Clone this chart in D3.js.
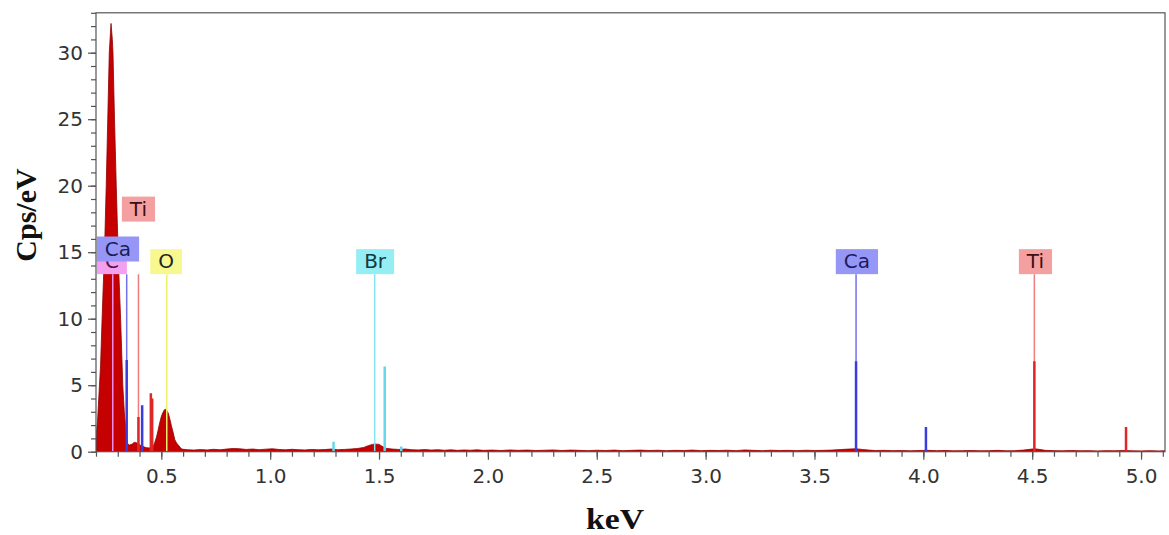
<!DOCTYPE html>
<html>
<head>
<meta charset="utf-8">
<script src="https://cdn.jsdelivr.net/npm/d3@7"></script>
<style>
  body { margin: 0; background: #fff; }
</style>
</head>
<body>
<div id="chart"></div>
<script>

// spectrum: [keV, cps/eV]
var spectrum = [
  [0.200, 1.0], [0.202, 1.4], [0.207, 2.3], [0.211, 3.5], [0.216, 5.0], [0.221, 6.5],
  [0.228, 10.0], [0.234, 12.8], [0.239, 15.0], [0.247, 20.0], [0.254, 25.0], [0.261, 30.0],
  [0.269, 32.2], [0.275, 31.0], [0.278, 30.0], [0.285, 25.0], [0.293, 20.0], [0.300, 16.0],
  [0.305, 13.4], [0.313, 10.0], [0.323, 5.0], [0.330, 3.0], [0.335, 2.0], [0.340, 1.0],
  [0.345, 0.6], [0.354, 0.5], [0.362, 0.55], [0.368, 0.6], [0.375, 0.7], [0.381, 0.7],
  [0.388, 0.65], [0.395, 0.6], [0.402, 0.5], [0.409, 0.45], [0.416, 0.4], [0.423, 0.35],
  [0.430, 0.3], [0.437, 0.3], [0.444, 0.28], [0.450, 0.3], [0.456, 0.32], [0.463, 0.4],
  [0.470, 0.7], [0.478, 1.1], [0.485, 1.6], [0.493, 2.2], [0.501, 2.7], [0.509, 3.0],
  [0.514, 3.15], [0.519, 3.2], [0.525, 3.1], [0.532, 2.9], [0.540, 2.4], [0.547, 1.9],
  [0.555, 1.4], [0.562, 0.9], [0.570, 0.65], [0.578, 0.5], [0.585, 0.35], [0.593, 0.22],
  [0.600, 0.18], [0.62, 0.15], [0.65, 0.12], [0.68, 0.16], [0.71, 0.13], [0.74, 0.18],
  [0.77, 0.14], [0.80, 0.2], [0.83, 0.24], [0.86, 0.22], [0.89, 0.17], [0.92, 0.2],
  [0.95, 0.15], [0.98, 0.19], [1.01, 0.22], [1.04, 0.17], [1.07, 0.14], [1.10, 0.18],
  [1.13, 0.15], [1.16, 0.13], [1.19, 0.17], [1.22, 0.14], [1.25, 0.16], [1.28, 0.2],
  [1.31, 0.15], [1.34, 0.17], [1.37, 0.2], [1.40, 0.24], [1.43, 0.32], [1.45, 0.45],
  [1.47, 0.55], [1.48, 0.58], [1.50, 0.55], [1.51, 0.45], [1.52, 0.35], [1.535, 0.25],
  [1.56, 0.2], [1.59, 0.17], [1.62, 0.2], [1.65, 0.15], [1.68, 0.13], [1.71, 0.16],
  [1.74, 0.12], [1.77, 0.15], [1.80, 0.11], [1.83, 0.14], [1.86, 0.1], [1.89, 0.13],
  [1.92, 0.11], [1.95, 0.14], [1.98, 0.1], [2.02, 0.12], [2.06, 0.09], [2.10, 0.13],
  [2.14, 0.1], [2.18, 0.12], [2.22, 0.09], [2.26, 0.11], [2.30, 0.13], [2.34, 0.09],
  [2.38, 0.12], [2.42, 0.1], [2.46, 0.08], [2.50, 0.11], [2.54, 0.09], [2.58, 0.12],
  [2.62, 0.08], [2.66, 0.1], [2.70, 0.12], [2.74, 0.09], [2.78, 0.11], [2.82, 0.08],
  [2.86, 0.1], [2.90, 0.09], [2.94, 0.12], [2.98, 0.08], [3.02, 0.1], [3.06, 0.09],
  [3.10, 0.11], [3.14, 0.08], [3.18, 0.13], [3.22, 0.1], [3.26, 0.08], [3.30, 0.11],
  [3.34, 0.09], [3.38, 0.1], [3.42, 0.08], [3.46, 0.11], [3.50, 0.09], [3.54, 0.1],
  [3.58, 0.12], [3.62, 0.16], [3.66, 0.2], [3.69, 0.22], [3.72, 0.17], [3.75, 0.12],
  [3.78, 0.09], [3.82, 0.1], [3.86, 0.08], [3.90, 0.09], [3.94, 0.07], [3.98, 0.09],
  [4.02, 0.1], [4.06, 0.08], [4.10, 0.09], [4.14, 0.07], [4.18, 0.08], [4.22, 0.09],
  [4.26, 0.07], [4.30, 0.08], [4.34, 0.1], [4.38, 0.07], [4.42, 0.08], [4.46, 0.12],
  [4.49, 0.18], [4.51, 0.22], [4.53, 0.18], [4.56, 0.1], [4.60, 0.08], [4.64, 0.07],
  [4.68, 0.09], [4.72, 0.07], [4.76, 0.08], [4.80, 0.06], [4.84, 0.08], [4.88, 0.07],
  [4.92, 0.09], [4.96, 0.07], [5.00, 0.06], [5.04, 0.08], [5.08, 0.06], [5.11, 0.07]
];

// element lines: [element, keV, height of the strong line, goes up to the label]
var markers = [
  ["C", 0.277, 0, true],
  ["Ca", 0.341, 6.9, true],
  ["Ti", 0.395, 2.6, true],
  ["Ca", 0.412, 3.5, false],
  ["Ti", 0.452, 4.4, false],
  ["Ti", 0.458, 4.0, false],
  ["O", 0.525, 0, true],
  ["Br", 1.291, 0.75, false],
  ["Br", 1.480, 0, true],
  ["Br", 1.526, 6.4, false],
  ["Br", 1.602, 0.4, false],
  ["Ca", 3.691, 6.8, true],
  ["Ca", 4.012, 1.85, false],
  ["Ti", 4.510, 6.8, true],
  ["Ti", 4.931, 1.85, false]
];
var lineTop = 13.35;

// label boxes: [element, keV at box centre, cps/eV at box bottom]
var labels = [
  ["C", 0.273, 13.35],
  ["Ti", 0.395, 17.3],
  ["Ca", 0.301, 14.3],
  ["O", 0.522, 13.35],
  ["Br", 1.482, 13.35],
  ["Ca", 3.695, 13.35],
  ["Ti", 4.515, 13.35]
];

var xDomain = [0.2, 5.11];
var yDomain = [0, 33];
var xMajor = [0.5, 1.0, 1.5, 2.0, 2.5, 3.0, 3.5, 4.0, 4.5, 5.0];
var yMajor = [0, 5, 10, 15, 20, 25, 30];

// colours per element: [box, light line, strong line, text]
var elemColors = {
  C:  ["#f3a0f0", "#f08cee", "#e060e0", "#4a1a4a"],
  Ca: ["#9696f6", "#7272ec", "#3c3cdc", "#1c1c5c"],
  Ti: ["#f5a0a0", "#f07c7c", "#e02626", "#3a1010"],
  O:  ["#f8f890", "#f0f06a", "#e6e640", "#222222"],
  Br: ["#94eef4", "#86e4f0", "#62d8e8", "#123a40"]
};

var svg = d3.select("#chart").append("svg")
    .attr("width", 1169)
    .attr("height", 535);

var x = d3.scaleLinear().domain(xDomain).range([96, 1165]);
var y = d3.scaleLinear().domain(yDomain).range([451.7, 12.8]);

svg.append("clipPath").attr("id", "clip")
    .append("rect")
    .attr("x", x(xDomain[0]))
    .attr("y", y(yDomain[1]))
    .attr("width", x(xDomain[1]) - x(xDomain[0]))
    .attr("height", y(0) - y(yDomain[1]));

//spectrum
let area = d3.area()
    .x(d => x(d[0]))
    .y0(y(0))
    .y1(d => y(d[1]));

svg.append("path")
    .datum(spectrum)
    .attr("d", area)
    .attr("fill", "#c40000")
    .attr("stroke", "#900000")
    .attr("stroke-width", 0.8)
    .attr("clip-path", "url(#clip)");

//element lines
var lines = svg.append("g").attr("clip-path", "url(#clip)");
markers.forEach(m => {
    let c = elemColors[m[0]];
    if (m[3]) {
        lines.append("line")
        .attr("x1", x(m[1])).attr("x2", x(m[1]))
        .attr("y1", y(0)).attr("y2", y(lineTop))
        .attr("stroke", c[1])
        .attr("stroke-width", 1.5);
    }
    if (m[2] > 0) {
        lines.append("line")
        .attr("x1", x(m[1])).attr("x2", x(m[1]))
        .attr("y1", y(0)).attr("y2", y(m[2]))
        .attr("stroke", c[2])
        .attr("stroke-width", 2.5);
    }
});

//label boxes
labels.forEach(l => {
    let c = elemColors[l[0]];
    let g = svg.append("g");
    let rect = g.append("rect");
    let t = g.append("text")
        .attr("x", x(l[1]))
        .attr("y", y(l[2]) - 6)
        .attr("text-anchor", "middle")
        .attr("font-family", "DejaVu Sans, Verdana, sans-serif")
        .attr("font-size", 20)
        .attr("fill", c[3])
        .text(l[0]);
    let w = t.node().getComputedTextLength() + 16;
    rect.attr("x", x(l[1]) - w / 2)
        .attr("y", y(l[2]) - 25)
        .attr("width", w)
        .attr("height", 25)
        .attr("fill", c[0]);
});

//frame
svg.append("rect")
    .attr("x", x(xDomain[0]))
    .attr("y", y(yDomain[1]))
    .attr("width", x(xDomain[1]) - x(xDomain[0]))
    .attr("height", y(0) - y(yDomain[1]))
    .attr("fill", "none")
    .attr("stroke", "#555")
    .attr("stroke-width", 1.2);

//axes
function styleAxis(g) {
    g.select(".domain").remove();
    g.selectAll("line").attr("stroke", "#555").attr("stroke-width", 1.2);
    g.selectAll("text")
        .attr("font-family", "DejaVu Sans, Verdana, sans-serif")
        .attr("font-size", 20)
        .attr("fill", "#333");
}

svg.append("g")
    .attr("transform", "translate(" + x(xDomain[0]) + ",0)")
    .call(d3.axisLeft(y).tickValues(d3.range(0, 34)).tickSize(5).tickFormat(""))
    .call(styleAxis);
svg.append("g")
    .attr("transform", "translate(" + x(xDomain[0]) + ",0)")
    .call(d3.axisLeft(y).tickValues(yMajor).tickSize(8).tickPadding(5).tickFormat(d3.format("d")))
    .call(styleAxis);

svg.append("g")
    .attr("transform", "translate(0," + y(0) + ")")
    .call(d3.axisBottom(x).tickValues(d3.range(2, 52).map(d => d / 10)).tickSize(5).tickFormat(""))
    .call(styleAxis);
svg.append("g")
    .attr("transform", "translate(0," + y(0) + ")")
    .call(d3.axisBottom(x).tickValues(xMajor).tickSize(8).tickPadding(9).tickFormat(d3.format(".1f")))
    .call(styleAxis);

//axis titles
svg.append("text")
    .attr("transform", "translate(36,215) rotate(-90)")
    .attr("text-anchor", "middle")
    .attr("font-family", "Liberation Serif, Times New Roman, serif")
    .attr("font-weight", "bold")
    .attr("font-size", 30)
    .attr("fill", "#111")
    .text("Cps/eV");

svg.append("text")
    .attr("x", 615)
    .attr("y", 529)
    .attr("text-anchor", "middle")
    .attr("font-family", "Liberation Serif, Times New Roman, serif")
    .attr("font-weight", "bold")
    .attr("font-size", 29)
    .attr("textLength", 58)
    .attr("lengthAdjust", "spacingAndGlyphs")
    .attr("fill", "#111")
    .text("keV");

</script>
</body>
</html>
